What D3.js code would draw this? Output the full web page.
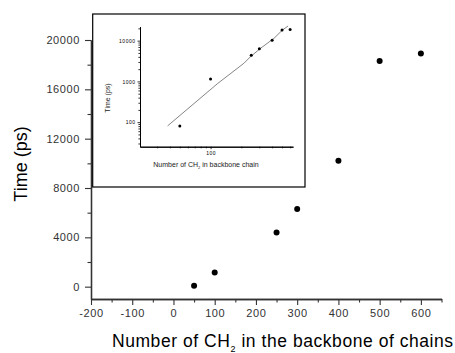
<!DOCTYPE html>
<html><head><meta charset="utf-8">
<script src="https://cdn.jsdelivr.net/npm/d3@7"></script>
<style>html,body{margin:0;padding:0;background:#fff;} svg{display:block;font-family:Arial,"Liberation Sans",sans-serif;}</style>
</head><body>
<svg id="c" width="455" height="353"></svg>
<script>
// ---- data ----
const chainLength = [50, 100, 250, 300, 400, 500, 600];
const timePs = [80, 1150, 4400, 6300, 10200, 18300, 18900];
// fitted curve shown in the inset (log-log)
const fitN = [38, 116, 212, 246, 309, 418, 505, 573];
const fitT = [81, 869, 2790, 4055, 6520, 11460, 18280, 22900];
// tick values
const mainXTicks = [-200, -100, 0, 100, 200, 300, 400, 500, 600];
const mainXMinor = [-150, -50, 50, 150, 250, 350, 450, 550, 650];
const mainYTicks = [0, 4000, 8000, 12000, 16000, 20000];
const mainYMinor = [2000, 6000, 10000, 14000, 18000];
const insetYTicks = [100, 1000, 10000];
const insetYMinor = [30,40,50,60,70,80,90,200,300,400,500,600,700,800,900,2000,3000,4000,5000,6000,7000,8000,9000,20000];
const insetXTicks = [100];
const insetXMinor = [30,40,50,60,70,80,90,200,300,400,500,600];

const svg = d3.select("#c");
const axisColor = "#333";
const plain = d => String(d);

// ---- main chart ----
const x = d3.scaleLinear().domain([-200, 650]).range([91, 441.5]);
const y = d3.scaleLinear().domain([-1000, 20000]).range([299, 40]);

const gx = svg.append("g").attr("transform", `translate(0,${y(-1000)})`);
gx.call(d3.axisBottom(x).tickValues(mainXTicks).tickSize(6).tickSizeOuter(0).tickPadding(4).tickFormat(plain));
gx.append("g").call(d3.axisBottom(x).tickValues(mainXMinor).tickSize(3.5).tickSizeOuter(0).tickFormat(""));
const gy = svg.append("g").attr("transform", `translate(${x(-200)},0)`);
gy.call(d3.axisLeft(y).tickValues(mainYTicks).tickSize(6).tickSizeOuter(0).tickPadding(5).tickFormat(plain));
gy.append("g").call(d3.axisLeft(y).tickValues(mainYMinor).tickSize(3.5).tickSizeOuter(0).tickFormat(""));
svg.selectAll(".domain").attr("stroke", axisColor).attr("stroke-width", 1.3);
svg.selectAll(".tick line").attr("stroke", axisColor).attr("stroke-width", 1.1);
svg.selectAll(".tick text").attr("font-size", 11).attr("fill", "#333")
  .attr("font-family", "Arial, 'Liberation Sans', sans-serif").attr("letter-spacing", 0.6);

svg.append("g").selectAll("circle").data(chainLength).join("circle")
  .attr("cx", d => x(d)).attr("cy", (d, i) => y(timePs[i])).attr("r", 3).attr("fill", "#000");

// axis titles
svg.append("text").attr("transform", "translate(27,164) rotate(-90)")
  .attr("text-anchor", "middle").attr("font-size", 18).attr("fill", "#000").text("Time (ps)");
const xt = svg.append("text").attr("x", 112).attr("y", 346.5).attr("font-size", 17.5).attr("fill", "#000").attr("letter-spacing", 0.55);
xt.append("tspan").text("Number of CH");
xt.append("tspan").attr("dy", 5).attr("font-size", 9).text("2");
xt.append("tspan").attr("dy", -5).text(" in the backbone of chains");

// ---- inset ----
svg.append("rect").attr("x", 92.7).attr("y", 14).attr("width", 212.3).attr("height", 173)
  .attr("fill", "#fff").attr("stroke", "#000").attr("stroke-width", 1.2);

const ix = d3.scaleLog().domain([20.4, 640]).range([140, 293]);
const iy = d3.scaleLog().domain([25, 22000]).range([146.7, 26.7]);
const inset = svg.append("g");
const igx = inset.append("g").attr("transform", "translate(0,146.7)");
igx.call(d3.axisBottom(ix).tickValues(insetXTicks).tickSize(2.5).tickSizeOuter(0).tickPadding(2).tickFormat(plain));
igx.append("g").call(d3.axisBottom(ix).tickValues(insetXMinor).tickSize(1.6).tickSizeOuter(0).tickFormat(""));
const igy = inset.append("g").attr("transform", "translate(140,0)");
igy.call(d3.axisLeft(iy).tickValues(insetYTicks).tickSize(2.5).tickSizeOuter(0).tickPadding(2).tickFormat(plain));
igy.append("g").call(d3.axisLeft(iy).tickValues(insetYMinor).tickSize(1.6).tickSizeOuter(0).tickFormat(""));
inset.selectAll(".domain").attr("stroke", "#000").attr("stroke-width", 1);
inset.selectAll(".tick line").attr("stroke", "#000").attr("stroke-width", 0.8);
inset.selectAll(".tick text").attr("font-size", 5).attr("fill", "#000").attr("letter-spacing", 0.5)
  .attr("font-family", "Arial, 'Liberation Sans', sans-serif");

inset.append("path").datum(fitN.map((n, i) => [n, fitT[i]]))
  .attr("fill", "none").attr("stroke", "#666").attr("stroke-width", 0.8)
  .attr("d", d3.line().x(d => ix(d[0])).y(d => iy(d[1])));
inset.append("g").selectAll("circle").data(chainLength).join("circle")
  .attr("cx", d => ix(d)).attr("cy", (d, i) => iy(timePs[i])).attr("r", 1.5).attr("fill", "#000");

inset.append("text").attr("transform", "translate(110,98) rotate(-90)")
  .attr("text-anchor", "middle").attr("font-size", 7).attr("fill", "#222").text("Time (ps)");
const ixt = inset.append("text").attr("x", 206).attr("y", 167).attr("text-anchor", "middle").attr("font-size", 7).attr("fill", "#222");
ixt.append("tspan").text("Number of CH");
ixt.append("tspan").attr("dy", 2).attr("font-size", 4).text("2");
ixt.append("tspan").attr("dy", -2).text(" in backbone chain");
</script>
</body></html>
